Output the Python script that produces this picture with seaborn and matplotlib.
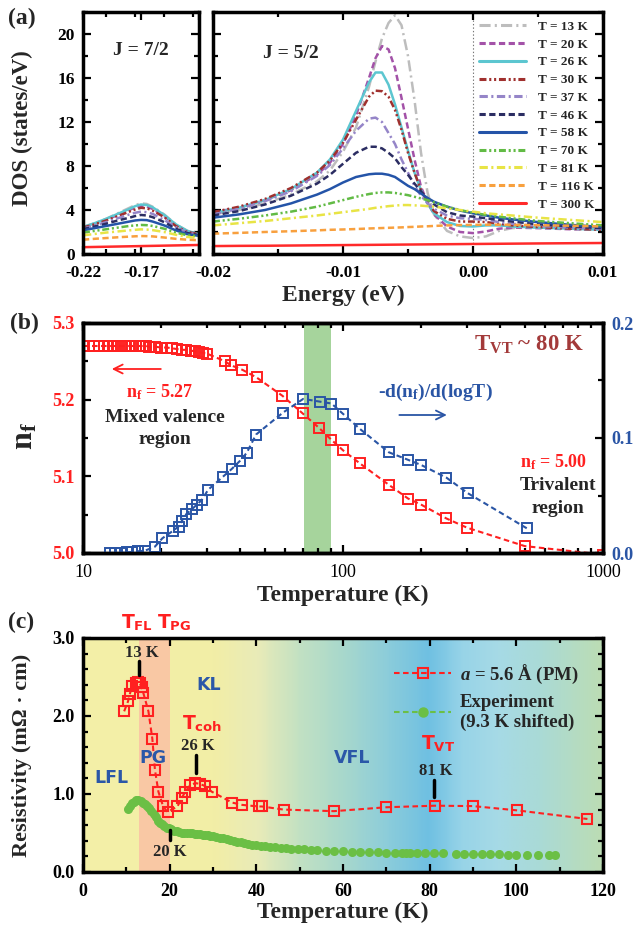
import numpy as np
import pandas as pd
import matplotlib
matplotlib.use("Agg")
import matplotlib.pyplot as plt
import seaborn as sns
from matplotlib.lines import Line2D
from matplotlib.colors import LinearSegmentedColormap
from matplotlib.ticker import MultipleLocator, FixedLocator, NullFormatter, FormatStrFormatter, LogLocator

# ---------------- data ----------------
# (a) DOS curves, J = 7/2 window
E_left = [-0.22, -0.21, -0.20, -0.19, -0.18, -0.175, -0.17, -0.165, -0.16, -0.15, -0.14, -0.13, -0.12]
dos_left = {
    "13": [2.45, 2.8, 3.2, 3.7, 4.2, 4.45, 4.6, 4.55, 4.3, 3.6, 2.7, 2.1, 1.85],
    "20": [2.4, 2.75, 3.1, 3.55, 4.0, 4.25, 4.35, 4.3, 4.1, 3.45, 2.6, 2.05, 1.8],
    "26": [2.45, 2.8, 3.2, 3.65, 4.1, 4.35, 4.5, 4.45, 4.25, 3.55, 2.7, 2.1, 1.8],
    "30": [2.4, 2.7, 3.05, 3.45, 3.85, 4.05, 4.2, 4.15, 3.95, 3.35, 2.55, 2.0, 1.8],
    "37": [2.3, 2.6, 2.9, 3.25, 3.6, 3.75, 3.85, 3.8, 3.65, 3.1, 2.45, 1.95, 1.75],
    "46": [2.25, 2.5, 2.75, 3.05, 3.3, 3.45, 3.55, 3.5, 3.35, 2.9, 2.3, 1.9, 1.7],
    "58": [2.15, 2.35, 2.55, 2.75, 2.95, 3.05, 3.1, 3.08, 2.95, 2.6, 2.15, 1.8, 1.65],
    "70": [1.95, 2.1, 2.25, 2.4, 2.55, 2.6, 2.64, 2.62, 2.55, 2.3, 1.95, 1.7, 1.6],
    "81": [1.7, 1.82, 1.95, 2.05, 2.15, 2.2, 2.24, 2.22, 2.17, 2.0, 1.75, 1.55, 1.45],
    "116": [1.3, 1.38, 1.45, 1.52, 1.58, 1.61, 1.63, 1.62, 1.6, 1.5, 1.38, 1.3, 1.25],
    "300": [0.62, 0.64, 0.66, 0.68, 0.7, 0.71, 0.72, 0.73, 0.74, 0.76, 0.78, 0.8, 0.82],
}

# (a) DOS curves, J = 5/2 window
E_right = [-0.020, -0.018, -0.016, -0.014, -0.012, -0.011, -0.010, -0.009, -0.008, -0.0075,
           -0.007, -0.0065, -0.006, -0.0055, -0.005, -0.0045, -0.004, -0.0035, -0.003, -0.002,
           -0.001, 0.000, 0.001, 0.002, 0.003, 0.005, 0.0075, 0.010]
dos_right = {
    "13": [3.6, 4.0, 4.6, 5.4, 6.6, 7.6, 9.3, 11.5, 15.2, 17.5, 19.6, 21.0, 21.7, 20.8, 18.0, 14.0,
           9.2, 5.6, 3.6, 2.1, 1.6, 1.45, 1.6, 2.1, 2.35, 2.45, 2.4, 2.3],
    "20": [3.8, 4.2, 4.9, 5.8, 7.2, 8.3, 10.0, 12.6, 16.0, 17.8, 18.9, 18.6, 16.9, 14.2, 11.4, 8.6,
           6.1, 4.7, 3.6, 2.5, 2.0, 1.9, 2.05, 2.3, 2.4, 2.35, 2.25, 2.2],
    "26": [3.7, 4.2, 4.9, 5.9, 7.4, 8.6, 10.4, 13.0, 15.6, 16.5, 16.5, 15.4, 13.6, 11.5, 9.4, 7.4,
           5.8, 4.6, 3.7, 2.9, 2.55, 2.5, 2.6, 2.6, 2.5, 2.4, 2.3, 2.2],
    "30": [3.8, 4.3, 5.0, 6.0, 7.4, 8.5, 10.1, 12.2, 14.3, 14.85, 14.8, 14.3, 13.1, 11.3, 9.2, 7.4,
           5.8, 4.7, 3.9, 3.2, 2.95, 2.95, 2.9, 2.75, 2.6, 2.45, 2.3, 2.2],
    "37": [3.6, 4.1, 4.8, 5.7, 7.1, 8.1, 9.6, 11.2, 12.3, 12.4, 12.0, 11.0, 10.0, 8.6, 7.4, 6.2,
           5.3, 4.6, 4.1, 3.5, 3.25, 3.2, 3.1, 2.9, 2.75, 2.55, 2.4, 2.3],
    "46": [3.5, 3.9, 4.5, 5.3, 6.4, 7.2, 8.2, 9.2, 9.75, 9.75, 9.6, 9.2, 8.7, 7.9, 7.2, 6.4,
           5.7, 5.0, 4.5, 3.8, 3.5, 3.4, 3.25, 3.1, 2.95, 2.7, 2.5, 2.35],
    "58": [3.3, 3.6, 4.0, 4.6, 5.4, 5.9, 6.5, 7.0, 7.25, 7.3, 7.3, 7.2, 7.0, 6.6, 6.2, 5.9,
           5.5, 5.1, 4.75, 4.3, 3.95, 3.7, 3.5, 3.3, 3.15, 2.9, 2.65, 2.45],
    "70": [2.95, 3.2, 3.5, 3.85, 4.3, 4.6, 4.9, 5.2, 5.45, 5.55, 5.6, 5.6, 5.55, 5.45, 5.35, 5.2,
           5.05, 4.9, 4.7, 4.3, 4.0, 3.75, 3.55, 3.4, 3.25, 3.0, 2.8, 2.6],
    "81": [2.6, 2.8, 3.0, 3.25, 3.5, 3.65, 3.8, 3.95, 4.1, 4.2, 4.27, 4.35, 4.4, 4.45, 4.45, 4.42,
           4.4, 4.35, 4.3, 4.15, 4.0, 3.85, 3.7, 3.6, 3.5, 3.3, 3.1, 2.9],
    "116": [1.85, 1.92, 2.0, 2.07, 2.15, 2.2, 2.23, 2.27, 2.32, 2.34, 2.36, 2.38, 2.4, 2.42, 2.45,
            2.47, 2.5, 2.52, 2.55, 2.6, 2.63, 2.65, 2.66, 2.66, 2.65, 2.62, 2.57, 2.5],
    "300": [0.72, 0.74, 0.75, 0.77, 0.79, 0.8, 0.81, 0.82, 0.83, 0.835, 0.84, 0.845, 0.85, 0.855,
            0.86, 0.865, 0.87, 0.875, 0.88, 0.89, 0.9, 0.91, 0.92, 0.93, 0.94, 0.96, 0.98, 1.0],
}
temps_a = ["13", "20", "26", "30", "37", "46", "58", "70", "81", "116", "300"]

# (b) valence n_f and its derivative
T_nf = [10.0, 10.5, 11.0, 11.5, 12.0, 12.5, 13.0, 13.5, 14.0, 14.5, 15.0, 15.5, 16.0, 16.5, 17.0,
        17.5, 18.0, 19.0, 20.0, 21.0, 22.0, 23.0, 24.0, 25.0, 26.0, 27.0, 28.0, 29.0, 30.0, 35.2,
        37.0, 41.0, 46.5, 58.5, 70.0, 81.0, 90.0, 100.0, 116.0, 150.0, 178.0, 200.0, 250.0, 300.0,
        500.0, 1000.0]
nf = [5.270, 5.270, 5.270, 5.270, 5.270, 5.270, 5.270, 5.270, 5.270, 5.270, 5.270, 5.270, 5.270,
      5.270, 5.270, 5.270, 5.269, 5.269, 5.268, 5.268, 5.267, 5.266, 5.265, 5.265, 5.264, 5.263,
      5.262, 5.261, 5.260, 5.250, 5.245, 5.239, 5.229, 5.205, 5.182, 5.163, 5.148, 5.134, 5.117,
      5.089, 5.071, 5.063, 5.045, 5.033, 5.009, 4.998]
T_dnf = [12.7, 13.3, 14.0, 14.7, 15.5, 16.3, 17.3, 18.9, 20.2, 22.1, 23.3, 24.0, 25.0, 26.2, 27.4,
         28.6, 30.3, 34.4, 37.3, 40.1, 42.6, 46.3, 58.7, 70.3, 81.6, 90.3, 100.0, 116.0, 150.0,
         178.0, 200.0, 250.0, 302.0, 509.0]
dnf = [0.000, 0.000, 0.000, 0.0005, 0.001, 0.0015, 0.002, 0.0055, 0.0128, 0.019, 0.023, 0.028,
       0.034, 0.038, 0.042, 0.046, 0.055, 0.066, 0.073, 0.080, 0.087, 0.103, 0.122, 0.134, 0.1316,
       0.130, 0.121, 0.108, 0.0876, 0.081, 0.0765, 0.0655, 0.052, 0.0215]
T_vt_band = [71, 90]
log_ticks = [10, 100, 1000]

# (c) resistivity
T_calc = [9.5, 10.4, 10.8, 11.4, 12.2, 12.7, 13.1, 13.5, 13.9, 15.1, 16.0, 16.6, 17.4, 18.5, 19.5,
          21.8, 22.8, 23.6, 24.7, 25.9, 27.0, 28.2, 29.7, 34.4, 36.8, 40.5, 41.3, 46.3, 57.9, 70.0,
          81.2, 90.0, 100.2, 116.4]
rho_calc = [2.06, 2.19, 2.28, 2.39, 2.42, 2.43, 2.42, 2.37, 2.30, 2.06, 1.71, 1.31, 1.03, 0.84,
            0.77, 0.84, 0.95, 1.03, 1.11, 1.14, 1.13, 1.10, 1.03, 0.89, 0.86, 0.84, 0.84, 0.80,
            0.78, 0.83, 0.85, 0.845, 0.79, 0.68]
T_exp = [10.4, 10.8, 11.3, 11.8, 12.3, 12.8, 13.3, 13.8, 14.3, 14.8, 15.3, 15.8, 16.3, 16.8, 17.3,
         17.8, 18.3, 18.8, 19.3, 19.8, 20.4, 21.0, 21.6, 22.2, 22.8, 23.4, 24.0, 24.6, 25.2, 25.8,
         26.4, 27.0, 27.6, 28.2, 28.8, 29.4, 30.0, 30.8, 31.6, 32.4, 33.2, 34.0, 34.8, 35.6, 36.4,
         37.2, 38.0, 39.0, 40.0, 41.0, 42.0, 43.2, 44.4, 45.6, 46.8, 48.0, 49.5, 51.0, 52.5, 54.0,
         56.0, 58.0, 60.0, 62.0, 64.0, 66.0, 68.0, 70.0, 72.0, 73.5, 74.5, 75.5, 77.0, 79.0, 81.0,
         83.0, 86.0, 88.0, 90.0, 92.0, 94.0, 96.0, 98.0, 100.0, 102.5, 105.0, 107.5, 109.0]
rho_exp = [0.81, 0.85, 0.88, 0.90, 0.92, 0.92, 0.91, 0.89, 0.87, 0.85, 0.82, 0.78, 0.74, 0.70, 0.66,
           0.63, 0.61, 0.59, 0.57, 0.56, 0.545, 0.53, 0.52, 0.51, 0.505, 0.50, 0.50, 0.50, 0.495,
           0.49, 0.49, 0.485, 0.48, 0.475, 0.47, 0.465, 0.46, 0.45, 0.44, 0.43, 0.42, 0.41, 0.40,
           0.39, 0.38, 0.37, 0.36, 0.35, 0.345, 0.335, 0.33, 0.32, 0.315, 0.31, 0.305, 0.30, 0.295,
           0.29, 0.285, 0.28, 0.275, 0.27, 0.265, 0.262, 0.258, 0.255, 0.252, 0.25, 0.248, 0.246,
           0.245, 0.244, 0.243, 0.242, 0.24, 0.238, 0.236, 0.234, 0.232, 0.23, 0.228, 0.226, 0.224,
           0.222, 0.22, 0.218, 0.216, 0.215]
T_fl, T_pg, T_coh, T_vt = 13, 20, 26, 81
band_pg = [13, 20]

# ---------------- style ----------------
sns.set_theme(style="ticks")
plt.rcParams.update({
    "font.family": ["Liberation Serif", "DejaVu Serif"],
    "font.weight": "bold",
    "axes.labelweight": "bold",
    "mathtext.fontset": "custom",
    "mathtext.rm": "Liberation Serif:bold",
    "mathtext.it": "Liberation Serif:italic:bold",
    "mathtext.bf": "Liberation Serif:bold",
    "mathtext.sf": "DejaVu Sans:bold",
    "lines.scale_dashes": False,
    "axes.facecolor": "white",
    "xtick.color": "black",
    "ytick.color": "black",
})

RED = "#FF2020"
BLUE = "#2A55A5"
GREEN = "#6BBF45"
LBLUE = "#2B57A8"

line_styles = {
    "13": ("#BDBDBD", (0, (8, 3, 1.5, 3))),
    "20": ("#A352A8", (0, (4.5, 2.5))),
    "26": ("#5CC6D0", "-"),
    "30": ("#A0302E", (0, (5, 2, 1.5, 2, 1.5, 2))),
    "37": ("#9585C8", (0, (6, 2.5, 1.5, 2.5))),
    "46": ("#2B2D62", (0, (4.5, 2.5))),
    "58": ("#2454A8", "-"),
    "70": ("#62BB45", (0, (5, 2, 1.5, 2, 1.5, 2))),
    "81": ("#E8E445", (0, (6, 2.5, 1.5, 2.5))),
    "116": ("#F8A03E", (0, (4.5, 2.5))),
    "300": ("#FF2A2A", "-"),
}


def style_axes(ax, right=True, top=True):
    for s in ax.spines.values():
        s.set_linewidth(2.5)
        s.set_color("black")
    ax.tick_params(which="both", direction="in", top=top, right=right, width=1.6,
                   labelsize=12.5)
    ax.tick_params(axis="x", pad=8)
    ax.tick_params(axis="y", pad=6)
    ax.tick_params(which="major", length=6)
    ax.tick_params(which="minor", length=3.5)


W, H = 637, 933
fig = plt.figure(figsize=(W / 100, H / 100), dpi=100)


def box(x0, y0, x1, y1):
    return [x0 / W, 1 - y1 / H, (x1 - x0) / W, (y1 - y0) / H]


axL = fig.add_axes(box(83, 12, 199, 254))
axR = fig.add_axes(box(213, 12, 603, 254))
axB = fig.add_axes(box(83, 323, 603, 553))
axC = fig.add_axes(box(83, 638, 603, 872))

# ---------------- (a) ----------------
for t in temps_a:
    c, ls = line_styles[t]
    sns.lineplot(x=E_left, y=dos_left[t], ax=axL, color=c, linestyle=ls, lw=1.8,
                 sort=False, estimator=None, legend=False)
    sns.lineplot(x=E_right, y=dos_right[t], ax=axR, color=c, linestyle=ls, lw=1.8,
                 sort=False, estimator=None, legend=False)

for ax in (axL, axR):
    ax.set_ylim(0, 22)
    ax.yaxis.set_major_locator(MultipleLocator(4))
    ax.yaxis.set_minor_locator(MultipleLocator(2))
    style_axes(ax)
    ax.set_xlabel("")
    ax.set_ylabel("")

axL.set_xlim(-0.22, -0.12)
axL.set_xticks([-0.22, -0.17, -0.12])
axL.set_xticklabels(["-0.22", "-0.17", ""])
axL.xaxis.set_minor_locator(MultipleLocator(0.025))
axL.set_yticks([0, 4, 8, 12, 16, 20])
axL.set_yticklabels(["0", "4", "8", "12", "16", "20"])
axL.text(0.5, 0.84, "J = 7/2", transform=axL.transAxes, ha="center", va="center", fontsize=14)

axR.set_xlim(-0.02, 0.01)
axR.set_xticks([-0.02, -0.01, 0.0, 0.01])
axR.set_xticklabels(["-0.02", "-0.01", "0.00", "0.01"])
axR.xaxis.set_minor_locator(MultipleLocator(0.005))
axR.yaxis.set_major_formatter(NullFormatter())
axR.axvline(0, color="#777777", lw=0.8, ls=(0, (1, 1.5)), zorder=0)
axR.text(0.2, 0.83, "J = 5/2", transform=axR.transAxes, ha="center", va="center", fontsize=14)

handles = [Line2D([], [], color=line_styles[t][0], linestyle=line_styles[t][1], lw=2.2)
           for t in temps_a]
labels = ["T = %s K" % t for t in temps_a]
axR.legend(handles, labels, loc="upper right", frameon=False, fontsize=9.5,
           handlelength=3.6, handletextpad=0.9, labelspacing=0.42,
           borderaxespad=0.25, bbox_to_anchor=(1.0, 1.0))

fig.text(8 / W, 1 - 18 / H, "(a)", fontsize=17, ha="left", va="center")
fig.text(22 / W, 1 - 128 / H, "DOS (states/eV)", rotation=90, fontsize=16.5, ha="center", va="center")
fig.text(343 / W, 1 - 295 / H, "Energy (eV)", fontsize=17, ha="center", va="center")

# ---------------- (b) ----------------
axB.set_xscale("log")
axB.axvspan(T_vt_band[0], T_vt_band[1], color="#A6D49C", lw=0, zorder=0)
sns.lineplot(x=T_nf, y=nf, ax=axB, color=RED, linestyle=(0, (4, 2.5)), lw=1.5,
             marker="s", ms=6.5, mfc="none", mec=RED, mew=1.4, sort=False, estimator=None,
             legend=False)
axB.set_xlim(10, 1000)
axB.set_ylim(5.0, 5.3)
axB.xaxis.set_major_locator(FixedLocator(log_ticks))
axB.xaxis.set_minor_locator(LogLocator(base=10, subs=np.arange(2, 10)))
axB.xaxis.set_minor_formatter(NullFormatter())
axB.set_xticklabels([str(v) for v in log_ticks])
axB.yaxis.set_major_locator(MultipleLocator(0.1))
axB.yaxis.set_minor_locator(MultipleLocator(0.05))
axB.yaxis.set_major_formatter(FormatStrFormatter("%.1f"))
style_axes(axB, right=False)
axB.tick_params(axis="y", labelcolor=RED, labelsize=13)
axB.tick_params(axis="x", labelsize=13)
for lab in axB.get_xticklabels():
    lab.set_fontweight("normal")
axB.set_xlabel("")
axB.set_ylabel("")

axB2 = axB.twinx()
sns.lineplot(x=T_dnf, y=dnf, ax=axB2, color=BLUE, linestyle=(0, (4, 2.5)), lw=1.5,
             marker="s", ms=6.5, mfc="none", mec=BLUE, mew=1.4, sort=False, estimator=None,
             legend=False)
axB2.set_ylim(0, 0.2)
axB2.yaxis.set_major_locator(MultipleLocator(0.1))
axB2.yaxis.set_minor_locator(MultipleLocator(0.05))
axB2.yaxis.set_major_formatter(FormatStrFormatter("%.1f"))
for s in axB2.spines.values():
    s.set_linewidth(2.5)
    s.set_color("black")
axB2.tick_params(which="both", direction="in", width=1.6, labelcolor=BLUE, labelsize=13, pad=6)
axB2.tick_params(which="major", length=6)
axB2.tick_params(which="minor", length=3.5)
axB2.set_ylabel("")
axB2.set_xlabel("")

tb = axB.transAxes
axB.text(0.858, 0.905, r"T$_{\rm VT}$ ~ 80 K", transform=tb, color="#A33A3A",
         fontsize=16.5, ha="center", va="center")
axB.annotate("", xy=(0.05, 0.80), xytext=(0.155, 0.80), xycoords=tb,
             arrowprops=dict(arrowstyle="->", color=RED, lw=1.3, mutation_scale=16))
axB.text(0.148, 0.70, r"n$_{\rm f}$ = 5.27", transform=tb, color=RED, fontsize=13,
         ha="center", va="center")
axB.text(0.158, 0.59, "Mixed valence", transform=tb, fontsize=14, ha="center", va="center")
axB.text(0.158, 0.495, "region", transform=tb, fontsize=14, ha="center", va="center")
axB.text(0.677, 0.70, r"-d(n$_{\rm f}$)/d(logT)", transform=tb, color=BLUE, fontsize=14,
         ha="center", va="center")
axB.annotate("", xy=(0.705, 0.60), xytext=(0.603, 0.60), xycoords=tb,
             arrowprops=dict(arrowstyle="->", color=BLUE, lw=1.3, mutation_scale=16))
axB.text(0.905, 0.395, r"n$_{\rm f}$ = 5.00", transform=tb, color=RED, fontsize=13,
         ha="center", va="center")
axB.text(0.913, 0.295, "Trivalent", transform=tb, fontsize=14, ha="center", va="center")
axB.text(0.913, 0.195, "region", transform=tb, fontsize=14, ha="center", va="center")

fig.text(10 / W, 1 - 323 / H, "(b)", fontsize=17, ha="left", va="center")
fig.text(25 / W, 1 - 436 / H, r"n$_{\rm f}$", rotation=90, fontsize=23, ha="center", va="center")
fig.text(343 / W, 1 - 595 / H, "Temperature (K)", fontsize=17, ha="center", va="center")

# ---------------- (c) ----------------
bg_cmap = LinearSegmentedColormap.from_list("bg", [
    (0.0, "#F4F0A8"), (30 / 120, "#F2EEA6"), (40 / 120, "#E9EBB8"), (50 / 120, "#C2E1C3"),
    (60 / 120, "#A8D8CC"), (70 / 120, "#8DCDDA"), (80 / 120, "#6FC0E2"), (88 / 120, "#98D4E8"),
    (96 / 120, "#A6DAE6"), (106 / 120, "#AADAD6"), (1.0, "#BCDDB4")])
axC.imshow(np.linspace(0, 1, 240).reshape(1, -1), cmap=bg_cmap, aspect="auto",
           extent=(0, 120, 0, 3), zorder=0, interpolation="bilinear")
axC.axvspan(band_pg[0], band_pg[1], color="#F9C8A4", lw=0, zorder=0.5)

sns.lineplot(x=T_exp, y=rho_exp, ax=axC, color=GREEN, linestyle="none", marker="o", ms=6.5,
             mfc=GREEN, mec=GREEN, mew=0, sort=False, estimator=None, legend=False, zorder=2)
sns.lineplot(x=T_calc, y=rho_calc, ax=axC, color=RED, linestyle=(0, (4, 2.5)), lw=1.5,
             marker="s", ms=7, mfc="none", mec=RED, mew=1.5, sort=False, estimator=None,
             legend=False, zorder=3)

axC.set_xlim(0, 120)
axC.set_ylim(0, 3)
axC.xaxis.set_major_locator(MultipleLocator(20))
axC.xaxis.set_minor_locator(MultipleLocator(10))
axC.yaxis.set_major_locator(MultipleLocator(1.0))
axC.yaxis.set_minor_locator(MultipleLocator(0.2))
axC.yaxis.set_major_formatter(FormatStrFormatter("%.1f"))
style_axes(axC)
axC.tick_params(labelsize=13)
axC.set_xlabel("")
axC.set_ylabel("")

# marker ticks at the characteristic temperatures
for tt, y0, y1 in [(T_fl, 2.53, 2.70), (T_coh, 1.27, 1.50), (T_pg, 0.41, 0.54), (T_vt, 0.96, 1.18)]:
    axC.plot([tt, tt], [y0, y1], color="black", lw=2.5, zorder=4)

axC.text(13.5, 2.81, "%d K" % T_fl, fontsize=12, ha="center", va="center", zorder=5)
axC.text(26.5, 1.61, "%d K" % T_coh, fontsize=12, ha="center", va="center", zorder=5)
axC.text(20.0, 0.26, "%d K" % T_pg, fontsize=12, ha="center", va="center", zorder=5)
axC.text(81.5, 1.29, "%d K" % T_vt, fontsize=12, ha="center", va="center", zorder=5)

sans = dict(family="DejaVu Sans", weight="bold")
axC.text(12.5, 3.2, r"T$_{\mathsf{FL}}$", color=RED, fontsize=13.5, ha="center", va="center",
         clip_on=False, **sans)
axC.text(21.0, 3.2, r"T$_{\mathsf{PG}}$", color=RED, fontsize=13.5, ha="center", va="center",
         clip_on=False, **sans)
axC.text(27.5, 1.9, r"T$_{\mathsf{coh}}$", color=RED, fontsize=13.5, ha="center", va="center",
         zorder=5, **sans)
axC.text(82.0, 1.64, r"T$_{\mathsf{VT}}$", color=RED, fontsize=13.5, ha="center", va="center",
         zorder=5, **sans)
axC.text(29.0, 2.40, "KL", color=LBLUE, fontsize=12.5, ha="center", va="center", zorder=5, **sans)
axC.text(16.2, 1.46, "PG", color=LBLUE, fontsize=12.5, ha="center", va="center", zorder=5, **sans)
axC.text(6.6, 1.20, "LFL", color=LBLUE, fontsize=12.5, ha="center", va="center", zorder=5, **sans)
axC.text(62.2, 1.46, "VFL", color=LBLUE, fontsize=12.5, ha="center", va="center", zorder=5, **sans)

hC = [Line2D([], [], color=RED, ls=(0, (4, 2.5)), lw=1.5, marker="s", ms=7, mfc="none",
             mec=RED, mew=1.5),
      Line2D([], [], color=GREEN, ls=(0, (4, 2.5)), lw=1.5, marker="o", ms=6.5, mfc=GREEN,
             mec=GREEN)]
legC = axC.legend(hC, [r"$a$ = 5.6 Å (PM)", "Experiment\n(9.3 K shifted)"], loc="upper right",
                  frameon=False, fontsize=13.5, handlelength=3.0, handletextpad=0.5,
                  labelspacing=0.45, borderaxespad=0.9)
legC.set_zorder(6)

fig.text(8 / W, 1 - 622 / H, "(c)", fontsize=17, ha="left", va="center")
fig.text(22 / W, 1 - 755 / H, "Resistivity (mΩ · cm)", rotation=90, fontsize=16,
         ha="center", va="center")
fig.text(343 / W, 1 - 912 / H, "Temperature (K)", fontsize=17, ha="center", va="center")

fig.savefig("out.png", dpi=100)
plt.close(fig)
